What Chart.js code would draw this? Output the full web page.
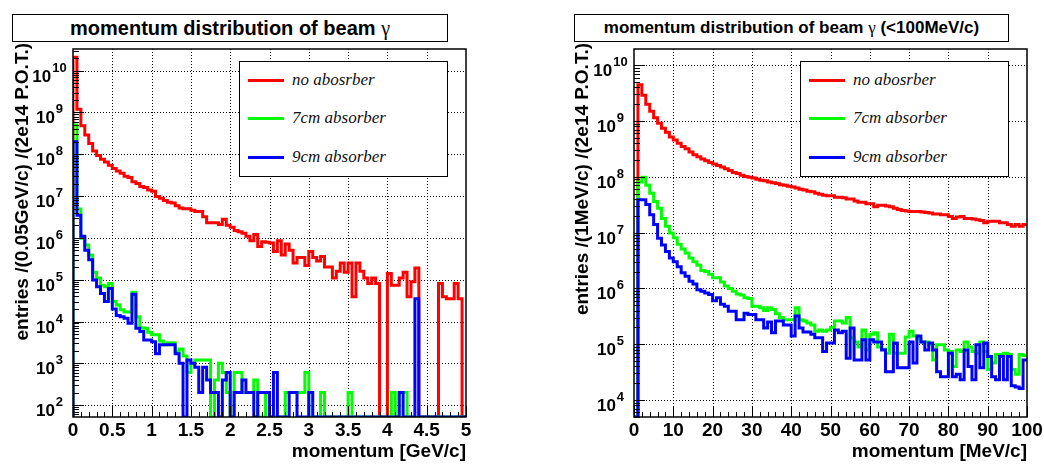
<!DOCTYPE html>
<html>
<head>
<meta charset="utf-8">
<script src="https://cdn.jsdelivr.net/npm/chart.js@4.4.1/dist/chart.umd.min.js"></script>
<style>
  body { margin: 0; background: #fff; }
  #wrap { position: relative; width: 1044px; height: 464px; overflow: hidden; font-family: "Liberation Sans", Arial, sans-serif; }
  canvas { position: absolute; top: 0; }
  #gevChart { left: 0; }
  #mevChart { left: 522px; }
  .title { position: absolute; top: 14px; height: 26px; border: 1px solid #000; background: #fff;
           font-weight: bold; text-align: center; line-height: 26px; color: #000; white-space: nowrap; }
  .title .g { font-family: "Liberation Serif", serif; font-weight: normal; }
  .legend { position: absolute; top: 61px; width: 207px; height: 114px; border: 1px solid #000; background: #fff; }
  .legend .line { position: absolute; left: 8px; width: 36px; height: 3px; }
  .legend .txt { position: absolute; left: 52px; font: italic 17px "Liberation Serif", "Times New Roman", serif; color: #111; line-height: 20px; white-space: nowrap; }
</style>
</head>
<body>
<div id="wrap">
  <canvas id="gevChart" width="522" height="464"></canvas>
  <canvas id="mevChart" width="522" height="464"></canvas>
  <div class="title" style="left:12px;width:434px;font-size:20px">momentum distribution of beam <span class="g">γ</span></div>
  <div class="title" style="left:574px;width:433px;font-size:17px">momentum distribution of beam <span class="g">γ</span> (&lt;100MeV/c)</div>
  <div class="legend" id="gevLegend" style="left:239px"></div>
  <div class="legend" id="mevLegend" style="left:800px"></div>
</div>
<script>
// histogram binning
const gevBinWidth = 0.05;   // GeV/c per bin
const mevBinWidth = 1;      // MeV/c per bin

const seriesNames = ['no abosrber', '7cm absorber', '9cm absorber'];
const seriesColors = ['#ff0000', '#00ff00', '#0000ff'];

// tick labels
const gevTicks = [0, 0.5, 1, 1.5, 2, 2.5, 3, 3.5, 4, 4.5, 5];
const mevTicks = [0, 10, 20, 30, 40, 50, 60, 70, 80, 90, 100];

// entries per bin, 0 - 5 GeV/c
const redGeV = [2.1e10, 1.2e9, 4.8e8, 2.9e8, 1.8e8, 1.2e8, 9.3e7, 7.6e7, 6.5e7, 5.5e7,
  4.6e7, 4.0e7, 3.5e7, 3.0e7, 2.8e7, 2.2e7, 2.0e7, 1.7e7, 1.6e7, 1.4e7,
  1.3e7, 9.8e6, 8.9e6, 7.9e6, 7.1e6, 6.8e6, 5.9e6, 5.2e6, 5.0e6, 5.0e6,
  4.6e6, 4.3e6, 4.3e6, 3.2e6, 2.3e6, 2.3e6, 2.3e6, 2.1e6, 2.8e6, 2.0e6,
  1.8e6, 1.5e6, 1.4e6, 1.3e6, 1.1e6, 8.5e5, 1.2e6, 6.2e5, 8.1e5, 7.9e5,
  7.6e5, 4.7e5, 8.5e5, 3.9e5, 7.1e5, 5.1e5, 2.5e5, 3.4e5, 3.4e5, 2.2e5,
  4.7e5, 3.4e5, 2.8e5, 3.6e5, 2.0e5, 2.0e5, 1.1e5, 1.6e5, 2.5e5, 1.5e5,
  2.5e5, 3.9e4, 2.5e5, 1.6e5, 1.1e5, 8.1e4, 1.1e5, 8.1e4, 0, 0,
  1.4e5, 7.4e4, 7.4e4, 1.1e5, 1.5e5, 3.9e4, 8.9e4, 1.9e5, 0, 0,
  0, 0, 0, 8.1e4, 3.9e4, 3.5e4, 3.5e4, 8.1e4, 3.5e4, 0];
const greenGeV = [5.0e8, 4.9e6, 9.8e5, 6.8e5, 3.9e5, 1.5e5, 1.1e5, 7.4e4, 6.8e4, 8.1e4,
  3.0e4, 2.5e4, 1.9e4, 1.7e4, 1.7e4, 5.0e4, 1.3e4, 7.1e3, 6.9e3, 5.5e3,
  4.8e3, 4.8e3, 3.4e3, 2.8e3, 3.1e3, 3.1e3, 1.9e3, 2.2e3, 1.5e3, 600,
  1000, 1200, 1200, 1200, 1200, 0, 400, 1000, 600, 200,
  0, 600, 600, 200, 200, 200, 400, 0, 0, 200,
  0, 0, 0, 0, 200, 200, 200, 200, 200, 600,
  0, 0, 0, 200, 0, 0, 0, 0, 0, 0,
  200, 0, 0, 0, 0, 0, 0, 0, 0, 0,
  0, 200, 0, 200, 200, 0, 0, 0, 0, 0,
  0, 0, 0, 0, 0, 0, 0, 0, 0, 0];
const blueGeV = [2.0e8, 3.5e6, 1.1e6, 5.1e5, 3.0e5, 9.8e4, 6.8e4, 4.7e4, 3.0e4, 6.2e4,
  2.0e4, 1.4e4, 1.3e4, 1.2e4, 9.1e3, 4.5e4, 6.9e3, 5.8e3, 3.6e3, 3.6e3,
  3.3e3, 1.7e3, 2.8e3, 2.8e3, 2.8e3, 2.8e3, 1.7e3, 1000, 0, 1200,
  1000, 800, 200, 800, 400, 200, 200, 0, 400, 600,
  0, 200, 200, 400, 200, 200, 0, 200, 200, 200,
  0, 600, 0, 0, 0, 200, 200, 0, 0, 0,
  200, 0, 0, 0, 0, 0, 0, 0, 0, 0,
  0, 0, 0, 0, 0, 0, 0, 0, 0, 0,
  0, 0, 0, 200, 0, 0, 0, 3.5e4, 0, 0,
  0, 0, 0, 0, 0, 0, 0, 0, 0, 0];

// entries per bin, 0 - 100 MeV/c
const redMeV = [0, 4.5e9, 2.9e9, 2.0e9, 1.5e9, 1.15e9, 9.1e8, 7.4e8, 6.3e8, 5.2e8,
  4.6e8, 4.0e8, 3.5e8, 3.2e8, 2.8e8, 2.5e8, 2.3e8, 2.1e8, 1.95e8, 1.8e8,
  1.7e8, 1.6e8, 1.5e8, 1.4e8, 1.3e8, 1.2e8, 1.15e8, 1.07e8, 1.02e8, 9.8e7,
  9.5e7, 9.1e7, 8.7e7, 8.5e7, 8.1e7, 7.8e7, 7.6e7, 7.2e7, 7.1e7, 6.8e7,
  6.6e7, 6.3e7, 6.0e7, 5.8e7, 5.5e7, 5.4e7, 5.1e7, 4.9e7, 4.7e7, 4.6e7,
  4.6e7, 4.3e7, 4.3e7, 4.2e7, 4.0e7, 4.0e7, 3.7e7, 3.5e7, 3.5e7, 3.3e7,
  3.3e7, 2.9e7, 3.1e7, 3.1e7, 3.0e7, 2.9e7, 2.75e7, 2.6e7, 2.5e7, 2.45e7,
  2.4e7, 2.4e7, 2.4e7, 2.35e7, 2.3e7, 2.25e7, 2.15e7, 2.15e7, 2.1e7, 2.1e7,
  1.95e7, 1.8e7, 1.9e7, 1.95e7, 1.8e7, 1.8e7, 1.75e7, 1.7e7, 1.65e7, 1.5e7,
  1.6e7, 1.6e7, 1.6e7, 1.5e7, 1.5e7, 1.4e7, 1.3e7, 1.4e7, 1.3e7, 1.4e7];
const greenMeV = [0, 8.1e7, 9.8e7, 7.1e7, 5.1e7, 3.6e7, 2.75e7, 1.8e7, 1.3e7, 9.8e6,
  8.1e6, 6.2e6, 5.1e6, 4.3e6, 3.5e6, 3.0e6, 2.6e6, 2.1e6, 2.0e6, 1.8e6,
  1.55e6, 1.55e6, 1.3e6, 1.1e6, 1.0e6, 8.9e5, 7.9e5, 7.6e5, 6.8e5, 6.6e5,
  4.8e5, 4.8e5, 4.5e5, 4.0e5, 4.5e5, 4.2e5, 3.5e5, 3.0e5, 2.75e5, 2.75e5,
  2.75e5, 4.5e5, 2.75e5, 2.6e5, 2.4e5, 2.2e5, 1.7e5, 1.8e5, 1.7e5, 1.8e5,
  2.0e5, 2.6e5, 2.6e5, 2.4e5, 3.0e5, 1.3e5, 1.1e5, 8.9e4, 1.8e5, 7.9e4,
  1.5e5, 1.6e5, 8.9e4, 8.1e4, 6.9e4, 1.5e5, 6.9e4, 6.9e4, 6.9e4, 1.35e5,
  1.7e5, 1.4e5, 1.25e5, 1.1e5, 1.1e5, 1.0e5, 5.2e4, 9.8e4, 9.8e4, 7.9e4,
  7.4e4, 4.0e4, 7.9e4, 7.4e4, 1.1e5, 8.9e4, 7.4e4, 6.9e4, 1.1e5, 7.4e4,
  3.5e4, 4.6e4, 6.5e4, 6.5e4, 6.9e4, 6.5e4, 3.5e4, 2.9e4, 6.5e4, 6.3e4];
const blueMeV = [0, 3.9e7, 3.9e7, 3.2e7, 2.1e7, 1.4e7, 7.9e6, 6.0e6, 4.6e6, 3.5e6,
  3.0e6, 2.45e6, 1.9e6, 1.66e6, 1.35e6, 1.2e6, 9.5e5, 8.9e5, 8.3e5, 7.8e5,
  6.0e5, 6.8e5, 5.2e5, 4.8e5, 3.9e5, 3.9e5, 2.75e5, 2.75e5, 3.6e5, 3.4e5,
  3.4e5, 2.75e5, 2.75e5, 1.95e5, 2.5e5, 1.6e5, 2.6e5, 2.6e5, 2.2e5, 2.2e5,
  1.4e5, 3.2e5, 1.95e5, 1.66e5, 1.66e5, 1.5e5, 1.3e5, 1.3e5, 7.4e4, 1.05e5,
  1.05e5, 1.8e5, 1.6e5, 1.7e5, 5.6e4, 1.95e5, 5.2e4, 5.2e4, 1.2e5, 5.2e4,
  1.2e5, 1.1e5, 1.1e5, 7.9e4, 3.2e4, 3.2e4, 1.05e5, 3.8e4, 3.8e4, 3.8e4,
  1.1e5, 4.6e4, 1.4e5, 1.1e5, 7.9e4, 1.05e5, 7.9e4, 3.2e4, 2.6e4, 2.6e4,
  6.9e4, 2.6e4, 2.9e4, 2.3e4, 7.9e4, 4.0e4, 2.3e4, 9.8e4, 3.8e4, 1.05e5,
  6.0e4, 2.6e4, 2.3e4, 6.0e4, 2.3e4, 6.0e4, 1.8e4, 1.7e4, 1.6e4, 5.2e4];

const FONT = '"Liberation Sans", Arial, sans-serif';

// step outline of a histogram: starts at the axis, one point per bin low edge, closes at the last edge.
// empty bins sit on the axis floor, as ROOT draws them on a log scale
function histPoints(values, width, floor) {
  const yOf = v => (v > 0 ? v : floor);
  const pts = [{ x: 0, y: floor }];
  values.forEach((v, i) => pts.push({ x: +(i * width).toFixed(4), y: yOf(v) }));
  pts.push({ x: +(values.length * width).toFixed(4), y: yOf(values[values.length - 1]) });
  return pts;
}

function decadesOf(scale) {
  const out = [];
  for (let e = Math.ceil(Math.log10(scale.min) - 1e-9); e <= Math.floor(Math.log10(scale.max) + 1e-9); e++) out.push(e);
  return out;
}

// ROOT-like frame: dotted grid, inner ticks, 10^n labels, axis titles
const rootAxes = {
  id: 'rootAxes',
  beforeDatasetsDraw(chart, args, o) {
    const { ctx, chartArea: a, scales: { x, y } } = chart;
    ctx.save();
    ctx.strokeStyle = '#000';
    ctx.lineWidth = 1;
    ctx.setLineDash([1, 2]);
    ctx.beginPath();
    o.xTicks.forEach(v => {
      const px = Math.round(x.getPixelForValue(v)) + 0.5;
      if (px <= a.left + 2 || px >= a.right - 2) return;
      ctx.moveTo(px, a.top); ctx.lineTo(px, a.bottom);
    });
    decadesOf(y).forEach(e => {
      const py = Math.round(y.getPixelForValue(10 ** e)) + 0.5;
      ctx.moveTo(a.left, py); ctx.lineTo(a.right, py);
    });
    ctx.stroke();
    ctx.restore();
  },
  afterDatasetsDraw(chart, args, o) {
    const { ctx, chartArea: a, scales: { x, y } } = chart;
    ctx.save();
    ctx.strokeStyle = '#000';
    ctx.fillStyle = '#000';
    ctx.lineWidth = 1.5;
    ctx.strokeRect(a.left, a.top, a.right - a.left, a.bottom - a.top);

    // x ticks
    ctx.lineWidth = 1;
    ctx.beginPath();
    const n = Math.round((x.max - x.min) / o.xMinor);
    for (let k = 0; k <= n; k++) {
      const v = x.min + k * o.xMinor;
      const major = o.xTicks.some(t => Math.abs(t - v) < 1e-6);
      const px = Math.round(x.getPixelForValue(v)) + 0.5;
      ctx.moveTo(px, a.bottom); ctx.lineTo(px, a.bottom - (major ? 11 : 5));
    }
    // y ticks (log)
    for (let e = Math.floor(Math.log10(y.min)); e <= Math.ceil(Math.log10(y.max)); e++) {
      for (let m = 1; m <= 9; m++) {
        const v = m * 10 ** e;
        if (v < y.min || v > y.max) continue;
        const py = Math.round(y.getPixelForValue(v)) + 0.5;
        ctx.moveTo(a.left, py); ctx.lineTo(a.left + (m === 1 ? 11 : 6), py);
      }
    }
    ctx.stroke();

    // x labels
    ctx.font = 'bold 19px ' + FONT;
    ctx.textAlign = 'center';
    ctx.textBaseline = 'alphabetic';
    o.xTicks.forEach(v => ctx.fillText(String(v), x.getPixelForValue(v), a.bottom + 19));

    // y labels 10^n
    decadesOf(y).forEach(e => {
      const py = y.getPixelForValue(10 ** e);
      ctx.font = 'bold 17px ' + FONT;
      const wb = ctx.measureText('10').width;
      ctx.font = 'bold 13px ' + FONT;
      const we = ctx.measureText(String(e)).width;
      const left = a.left - 24 - (wb + we) / 2;
      ctx.textAlign = 'left';
      ctx.font = 'bold 17px ' + FONT;
      ctx.fillText('10', left, py + 11);
      ctx.font = 'bold 13px ' + FONT;
      ctx.fillText(String(e), left + wb + 1, py + 1);
    });

    // axis titles
    ctx.font = 'bold 19px ' + FONT;
    ctx.textAlign = 'right';
    ctx.fillText(o.xTitle, a.right, a.bottom + 40);
    ctx.translate(o.yTitleX, a.top - 6);
    ctx.rotate(-Math.PI / 2);
    ctx.textAlign = 'left';
    ctx.fillText(o.yTitle, -(ctx.measureText(o.yTitle).width), 0);
    ctx.restore();
  }
};

function makeDatasets(series, width, floor) {
  return series.map((vals, i) => ({
    label: seriesNames[i],
    data: histPoints(vals, width, floor),
    borderColor: seriesColors[i],
    borderWidth: 3,
    borderJoinStyle: 'miter',
    stepped: true,
    pointRadius: 0,
    fill: false,
    order: 3 - i
  }));
}

function makeChart(id, series, width, xMax, yMin, yMax, padding, axes) {
  new Chart(document.getElementById(id), {
    type: 'line',
    data: { datasets: makeDatasets(series, width, yMin) },
    options: {
      responsive: false,
      animation: false,
      devicePixelRatio: 1,
      layout: { padding },
      plugins: { legend: { display: false }, tooltip: { enabled: false }, rootAxes: axes },
      scales: {
        x: { type: 'linear', min: 0, max: xMax, display: false },
        y: { type: 'logarithmic', min: yMin, max: yMax, display: false }
      }
    },
    plugins: [rootAxes]
  });
}

makeChart('gevChart', [redGeV, greenGeV, blueGeV], gevBinWidth, 5, 52, 3.3e10,
  { left: 73, right: 56, top: 49, bottom: 47 },
  { xTicks: gevTicks, xMinor: 0.1, xTitle: 'momentum [GeV/c]', yTitle: 'entries /(0.05GeV/c) /(2e14 P.O.T.)', yTitleX: 28 });

makeChart('mevChart', [redMeV, greenMeV, blueMeV], mevBinWidth, 100, 4950, 1.96e10,
  { left: 112, right: 17, top: 49, bottom: 47 },
  { xTicks: mevTicks, xMinor: 2, xTitle: 'momentum [MeV/c]', yTitle: 'entries /(1MeV/c) /(2e14 P.O.T.)', yTitleX: 66 });

// legends
['gevLegend', 'mevLegend'].forEach(id => {
  const box = document.getElementById(id);
  [19, 57, 96].forEach((cy, i) => {
    const line = document.createElement('div');
    line.className = 'line';
    line.style.top = (cy - 2) + 'px';
    line.style.background = seriesColors[i];
    const txt = document.createElement('div');
    txt.className = 'txt';
    txt.style.top = (cy - 11) + 'px';
    txt.textContent = seriesNames[i];
    box.appendChild(line);
    box.appendChild(txt);
  });
});
</script>
</body>
</html>
